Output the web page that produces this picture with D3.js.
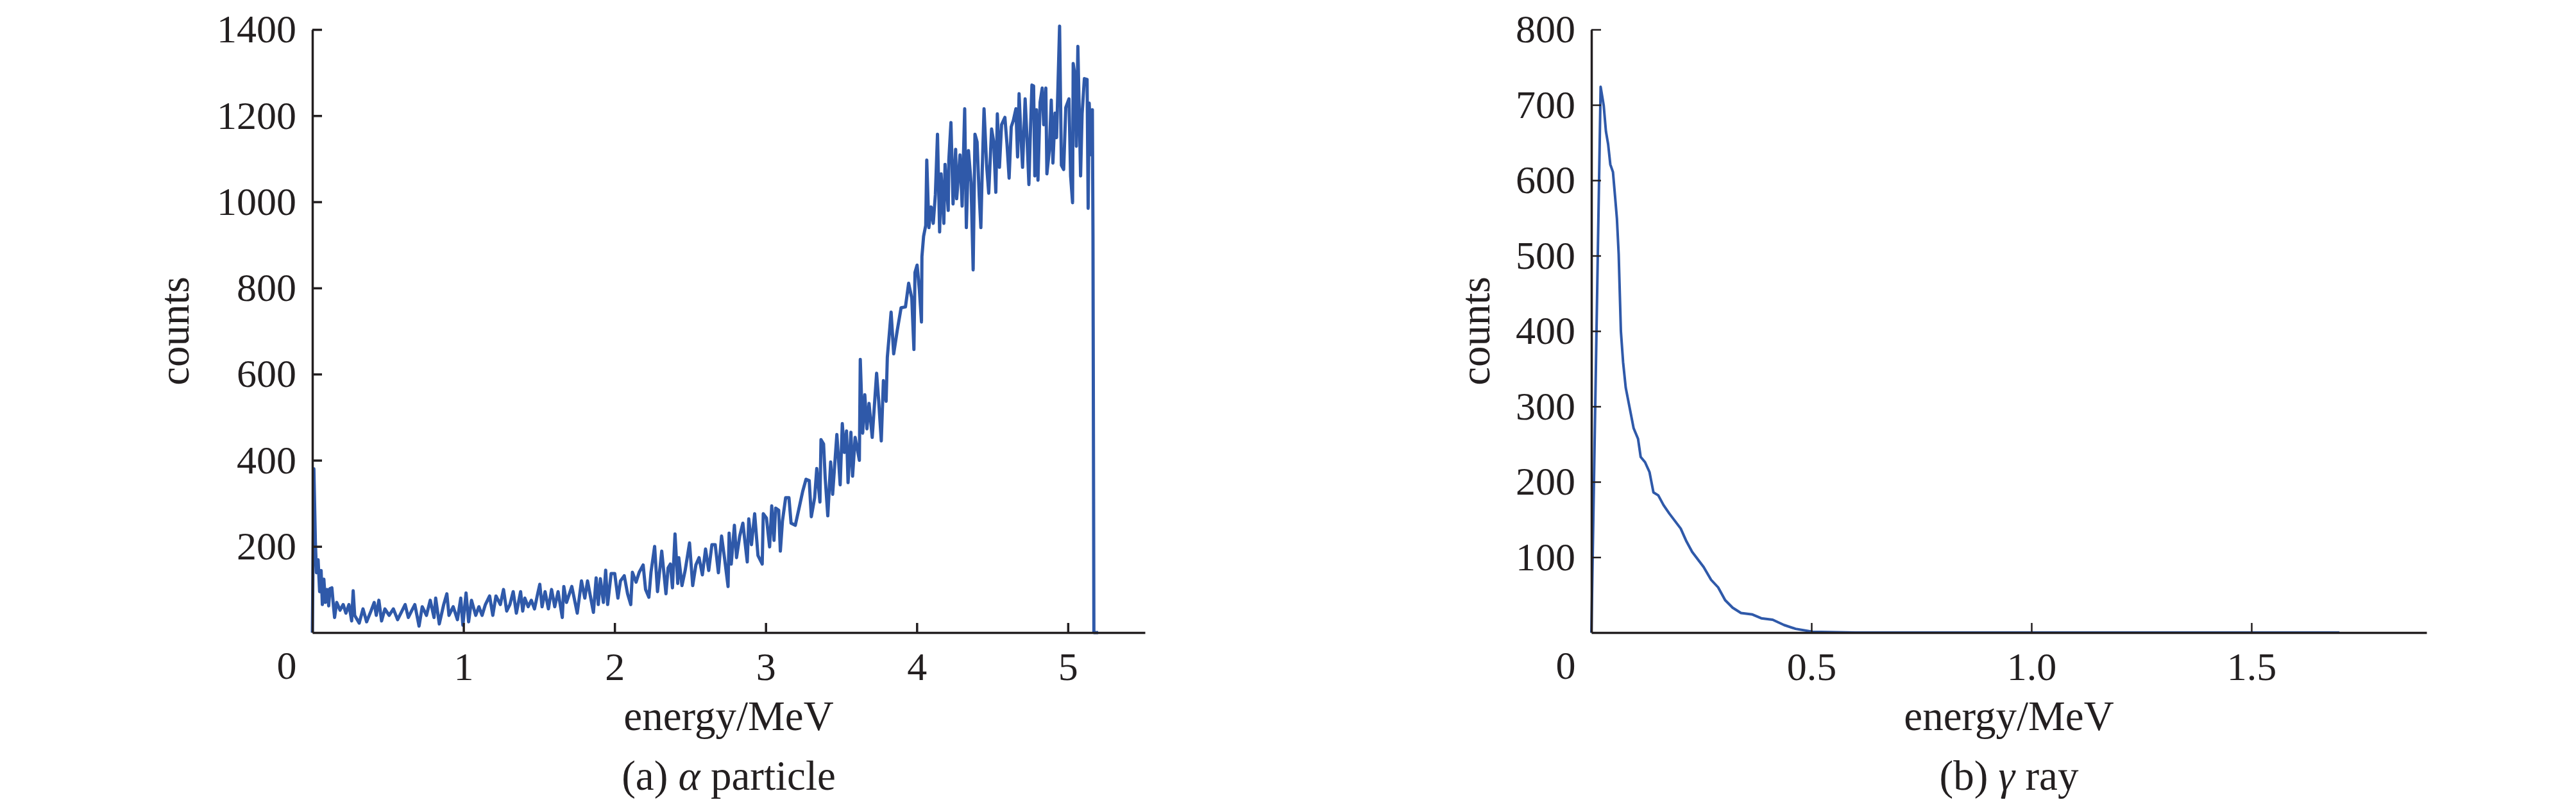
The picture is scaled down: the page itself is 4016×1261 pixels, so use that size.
<!DOCTYPE html>
<html>
<head>
<meta charset="utf-8">
<script src="https://cdn.jsdelivr.net/npm/d3@7"></script>
<style>
  body { margin: 0; background: #fff; }
  text { font-family: "Liberation Serif", "Times New Roman", serif; fill: #231f20; }
</style>
</head>
<body>
<div id="chart"></div>
<script>
// alpha particle spectrum (energy in MeV, counts)
const alphaEnergy = [0,0.01,0.02,0.027,0.038,0.048,0.058,0.066,0.076,0.086,0.098,0.108,0.116,0.129,0.14,0.147,0.161,0.183,0.204,0.222,0.242,0.26,0.27,0.28,0.31,0.335,0.359,0.388,0.409,0.423,0.44,0.458,0.48,0.508,0.536,0.564,0.593,0.614,0.635,0.656,0.678,0.706,0.727,0.755,0.78,0.805,0.816,0.84,0.869,0.89,0.904,0.932,0.96,0.982,0.996,1.017,1.034,1.053,1.081,1.102,1.123,1.145,1.173,1.194,1.215,1.244,1.265,1.286,1.307,1.329,1.35,1.378,1.392,1.406,1.428,1.449,1.47,1.491,1.505,1.52,1.54,1.562,1.583,1.604,1.626,1.654,1.664,1.682,1.717,1.753,1.781,1.803,1.821,1.86,1.878,1.892,1.906,1.926,1.941,1.954,1.977,2.001,2.022,2.039,2.064,2.086,2.107,2.118,2.142,2.163,2.189,2.205,2.227,2.241,2.265,2.284,2.312,2.34,2.354,2.369,2.383,2.4,2.418,2.425,2.446,2.467,2.496,2.517,2.538,2.559,2.581,2.602,2.623,2.644,2.666,2.687,2.708,2.729,2.751,2.758,2.772,2.793,2.807,2.828,2.849,2.878,2.888,2.906,2.927,2.949,2.977,2.984,3.005,3.026,3.04,3.055,3.066,3.086,3.097,3.111,3.132,3.154,3.168,3.196,3.224,3.245,3.267,3.288,3.302,3.324,3.338,3.359,3.366,3.383,3.394,3.411,3.43,3.443,3.471,3.493,3.507,3.521,3.535,3.545,3.564,3.575,3.592,3.62,3.626,3.642,3.656,3.67,3.684,3.705,3.734,3.748,3.765,3.779,3.797,3.805,3.819,3.83,3.847,3.87,3.896,3.925,3.946,3.967,3.981,3.988,4.002,4.017,4.031,4.034,4.045,4.059,4.066,4.08,4.095,4.109,4.123,4.137,4.151,4.161,4.179,4.187,4.208,4.212,4.226,4.24,4.257,4.264,4.286,4.3,4.317,4.328,4.342,4.359,4.373,4.385,4.399,4.413,4.424,4.434,4.445,4.462,4.476,4.495,4.509,4.523,4.533,4.547,4.561,4.583,4.597,4.611,4.625,4.639,4.656,4.667,4.677,4.689,4.7,4.717,4.728,4.742,4.752,4.762,4.773,4.781,4.792,4.802,4.816,4.83,4.84,4.854,4.861,4.877,4.89,4.901,4.915,4.925,4.945,4.957,4.972,4.986,5.007,5.018,5.031,5.035,5.049,5.056,5.066,5.084,5.094,5.109,5.127,5.134,5.141,5.155,5.162,5.166,5.172,5.2];
const alphaCounts = [0,380,209,139,169,95,144,65,124,70,100,62,102,104,60,35,70,52,65,45,65,27,97,40,22,55,25,50,70,40,75,27,55,40,55,30,50,65,35,50,65,15,60,40,75,35,80,20,65,90,40,60,30,80,17,92,25,75,40,60,40,65,85,40,85,65,100,50,65,95,45,95,50,80,60,75,55,90,112,60,95,55,100,60,95,35,107,70,107,45,120,80,120,47,127,65,125,70,145,65,137,137,80,120,132,90,65,140,117,140,157,100,82,140,200,95,189,90,150,159,104,229,114,174,109,144,208,109,157,174,134,194,144,204,204,139,224,169,107,231,159,249,174,224,254,164,264,204,276,179,159,276,266,199,294,214,289,284,189,259,313,313,254,249,294,328,356,353,269,313,381,303,448,438,358,271,396,321,460,343,485,418,468,348,465,363,453,400,634,463,552,473,532,453,602,537,445,585,537,639,697,744,647,700,754,756,811,776,657,836,853,796,721,873,920,945,1097,940,988,950,1017,1157,930,1065,950,1087,980,1097,1184,995,1122,1007,1109,990,1216,940,1119,1045,842,1157,1139,1015,940,1085,1216,1085,1020,1169,1139,1022,1204,1080,1179,1196,1134,1055,1174,1189,1216,1104,1251,1154,1080,1239,1159,1040,1164,1271,1269,1060,1214,1050,1231,1264,1179,1264,1065,1119,1236,1090,1206,1149,1408,1085,1075,1219,1239,1060,998,1321,1289,1129,1361,1060,1204,1286,1284,985,1229,1109,1214,920,0,0];

// gamma ray spectrum
const gammaEnergy = [0,0.021,0.028,0.033,0.038,0.043,0.049,0.054,0.058,0.062,0.067,0.072,0.078,0.087,0.096,0.106,0.112,0.122,0.132,0.141,0.152,0.164,0.177,0.19,0.203,0.216,0.229,0.242,0.255,0.272,0.288,0.304,0.321,0.34,0.366,0.386,0.412,0.438,0.464,0.503,0.6,1.7];
const gammaCounts = [0,724,699,665,648,621,611,577,549,502,400,359,325,298,271,257,233,226,213,186,182,169,158,148,138,121,107,97,87,70,60,43,33,26,24,19,17,10,5,1,0,0];

const alphaYTicks = [200, 400, 600, 800, 1000, 1200, 1400];
const alphaXTicks = [1, 2, 3, 4, 5];
const gammaYTicks = [100, 200, 300, 400, 500, 600, 700, 800];
const gammaXTicks = [0.5, 1.0, 1.5];

const W = 4016, H = 1261;
const lineColor = "#2f59a9";
const inkColor = "#231f20";

const svg = d3.select("#chart")
  .append("svg")
  .attr("width", W)
  .attr("height", H);

function drawPanel(opt) {
  const x = d3.scaleLinear().domain(opt.xDomain).range([opt.left, opt.right]);
  const y = d3.scaleLinear().domain(opt.yDomain).range([opt.bottom, opt.top]);

  const line = d3.line()
    .x(d => x(d[0]))
    .y(d => y(d[1]));

  svg.append("path")
    .datum(d3.zip(opt.energy, opt.counts))
    .attr("d", line)
    .attr("fill", "none")
    .attr("stroke", lineColor)
    .attr("stroke-width", opt.lineWidth)
    .attr("stroke-linejoin", "round");

  const xAxis = svg.append("g")
    .attr("transform", `translate(0,${opt.bottom})`)
    .call(d3.axisBottom(x).tickValues(opt.xTicks).tickFormat(opt.xFormat)
      .tickSizeInner(-15).tickSizeOuter(0).tickPadding(30));

  const yAxis = svg.append("g")
    .attr("transform", `translate(${opt.left},0)`)
    .call(d3.axisLeft(y).tickValues(opt.yTicks).tickFormat(d3.format("d"))
      .tickSizeInner(-15).tickSizeOuter(0).tickPadding(25));

  [xAxis, yAxis].forEach(g => {
    g.select(".domain").attr("stroke", inkColor).attr("stroke-width", 3.5);
    g.selectAll(".tick line").attr("stroke", inkColor).attr("stroke-width", opt.tickWidth);
    g.selectAll(".tick text")
      .attr("fill", inkColor)
      .style("font-family", '"Liberation Serif", "Times New Roman", serif')
      .style("font-size", "62px");
  });

  // origin label shared by both axes
  svg.append("text")
    .attr("x", opt.left - 40)
    .attr("y", 1058)
    .attr("text-anchor", "middle")
    .style("font-size", "62px")
    .text("0");

  svg.append("text")
    .attr("transform", `translate(${opt.yLabelX},${(opt.top + opt.bottom) / 2}) rotate(-90)`)
    .attr("text-anchor", "middle")
    .attr("dy", "0.35em")
    .style("font-size", "65px")
    .text("counts");

  const cx = (opt.left + opt.right) / 2;
  svg.append("text")
    .attr("x", cx)
    .attr("y", 1138)
    .attr("text-anchor", "middle")
    .style("font-size", "65px")
    .text("energy/MeV");

  const cap = svg.append("text")
    .attr("x", cx)
    .attr("y", 1231)
    .attr("text-anchor", "middle")
    .style("font-size", "65px");
  cap.append("tspan").text(opt.captionA);
  cap.append("tspan").style("font-style", "italic").text(opt.greek);
  cap.append("tspan").text(opt.captionB);
}

drawPanel({
  left: 487, right: 1785, top: 46, bottom: 986,
  xDomain: [0, 5.51], yDomain: [0, 1400],
  xTicks: alphaXTicks, yTicks: alphaYTicks, xFormat: d3.format("d"),
  energy: alphaEnergy, counts: alphaCounts,
  lineWidth: 5, tickWidth: 3.5, yLabelX: 271,
  captionA: "(a) ", greek: "α", captionB: " particle"
});

drawPanel({
  left: 2481, right: 3783, top: 46, bottom: 986,
  xDomain: [0, 1.898], yDomain: [0, 800],
  xTicks: gammaXTicks, yTicks: gammaYTicks, xFormat: d3.format(".1f"),
  energy: gammaEnergy, counts: gammaCounts,
  lineWidth: 4, tickWidth: 2.5, yLabelX: 2299,
  captionA: "(b) ", greek: "γ", captionB: " ray"
});
</script>
</body>
</html>
